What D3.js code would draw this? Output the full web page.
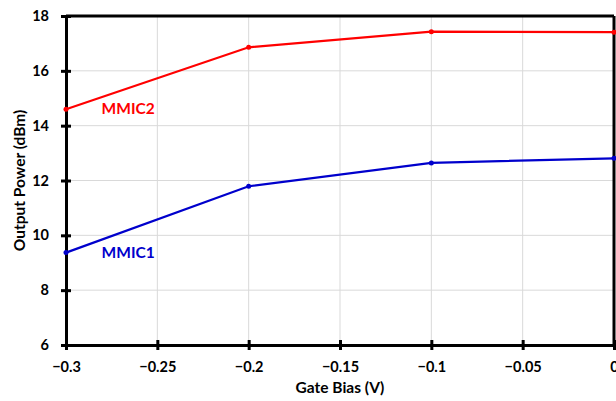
<!DOCTYPE html>
<html>
<head>
<meta charset="utf-8">
<script src="https://cdn.jsdelivr.net/npm/d3@7"></script>
<style>
  body { margin: 0; background: #fff; }
  text { font-family: Lato, "Open Sans", sans-serif; font-weight: bold; }
</style>
</head>
<body>
<div class="chart"></div>
<script>
// data
var gateBias = [-0.3, -0.2, -0.1, 0];
var mmic1 = [9.37, 11.79, 12.64, 12.81];
var mmic2 = [14.6, 16.86, 17.43, 17.41];
var xTicks = [-0.3, -0.25, -0.2, -0.15, -0.1, -0.05, 0];
var yTicks = [6, 8, 10, 12, 14, 16, 18];

var series = [
  { name: "MMIC1", values: mmic1, color: "#0000cc", label: [-0.2805, 9.17] },
  { name: "MMIC2", values: mmic2, color: "#ff0000", label: [-0.2805, 14.42] }
];

var W = 616, H = 401;
var margin = { top: 16, right: 2, bottom: 56, left: 66 },
  width = W - margin.left - margin.right,
  height = H - margin.top - margin.bottom;

var svg = d3.select(".chart").append("svg")
  .attr("width", W).attr("height", H);

var x = d3.scaleLinear().domain([-0.3, 0]).range([0, width]);
var y = d3.scaleLinear().domain([6, 18]).range([height, 0]);

var g = svg.append("g")
  .attr("transform", "translate(" + margin.left + "," + margin.top + ")");

// grid
g.selectAll(".hgrid").data(yTicks).enter().append("line")
  .attr("x1", 0).attr("x2", width)
  .attr("y1", function (d) { return y(d); })
  .attr("y2", function (d) { return y(d); })
  .attr("stroke", "#d9d9d9").attr("stroke-width", 1);
g.selectAll(".vgrid").data(xTicks).enter().append("line")
  .attr("y1", 0).attr("y2", height)
  .attr("x1", function (d) { return x(d); })
  .attr("x2", function (d) { return x(d); })
  .attr("stroke", "#d9d9d9").attr("stroke-width", 1);

// top and right border
g.append("line").attr("x1", 0).attr("x2", width).attr("y1", 0).attr("y2", 0)
  .attr("stroke", "#000").attr("stroke-width", 3);
g.append("line").attr("x1", width).attr("x2", width).attr("y1", 0).attr("y2", height)
  .attr("stroke", "#000").attr("stroke-width", 3);

// axes
var xAxis = g.append("g")
  .attr("transform", "translate(0," + height + ")")
  .call(d3.axisBottom(x).tickValues(xTicks)
    .tickFormat(function (d) { return d === 0 ? "0" : d3.format("")(+d.toFixed(2)); })
    .tickSizeInner(5).tickSizeOuter(0).tickPadding(12));
var yAxis = g.append("g")
  .call(d3.axisLeft(y).tickValues(yTicks).tickSizeInner(5).tickSizeOuter(0).tickPadding(12));

[xAxis, yAxis].forEach(function (a) {
  a.select(".domain").attr("stroke", "#000").attr("stroke-width", 3);
  a.selectAll(".tick line").attr("stroke", "#000").attr("stroke-width", 3);
  a.selectAll(".tick text").attr("font-size", 14.5).attr("fill", "#000")
    .style("font-family", "Lato, 'Open Sans', sans-serif").style("font-weight", "bold");
});
// ticks cross the axis
xAxis.selectAll(".tick line").attr("y1", -5);
yAxis.selectAll(".tick line").attr("x1", 5).attr("x2", -5);

// lines
var line = d3.line()
  .x(function (d, i) { return x(gateBias[i]); })
  .y(function (d) { return y(d); });

series.forEach(function (s) {
  g.append("path").datum(s.values)
    .attr("d", line)
    .attr("fill", "none")
    .attr("stroke", s.color)
    .attr("stroke-width", 2.25);
  g.selectAll(".pt-" + s.name).data(s.values).enter().append("circle")
    .attr("cx", function (d, i) { return x(gateBias[i]); })
    .attr("cy", function (d) { return y(d); })
    .attr("r", 2.5)
    .attr("fill", s.color);
  g.append("text")
    .attr("x", x(s.label[0]))
    .attr("y", y(s.label[1]))
    .attr("fill", s.color)
    .attr("font-size", 15.5)
    .text(s.name);
});

// axis titles
svg.append("text")
  .attr("x", margin.left + width / 2).attr("y", 393)
  .attr("text-anchor", "middle").attr("font-size", 15.5)
  .text("Gate Bias (V)");
svg.append("text")
  .attr("transform", "translate(25," + (margin.top + height / 2) + ") rotate(-90)")
  .attr("text-anchor", "middle").attr("font-size", 15.5)
  .text("Output Power (dBm)");
</script>
</body>
</html>
